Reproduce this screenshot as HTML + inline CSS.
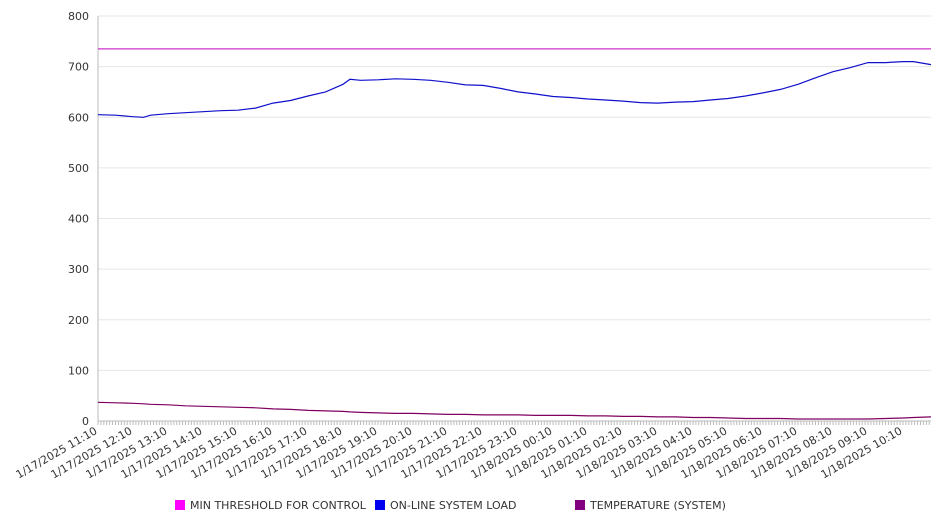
<!DOCTYPE html>
<html><head><meta charset="utf-8"><style>
body{margin:0;background:#fff;font-family:"Liberation Sans","DejaVu Sans",sans-serif}
svg text{font-family:"DejaVu Sans","Liberation Sans",sans-serif;fill:#333}
</style></head><body>
<svg id="chart" width="946" height="526" xmlns="http://www.w3.org/2000/svg">
<g id="grid"></g>
<g id="yaxis"></g>
<g id="xaxis"></g>
<g id="series"></g>
<g id="legend">
<g><rect x="175" y="500" width="10" height="10" fill="#ff00ff"/><text x="190" y="509" font-size="11">MIN THRESHOLD FOR CONTROL</text></g>
<g><rect x="375" y="500" width="10" height="10" fill="#0000ee"/><text x="390" y="509" font-size="11">ON-LINE SYSTEM LOAD</text></g>
<g><rect x="575" y="500" width="10" height="10" fill="#800080"/><text x="590" y="509" font-size="11">TEMPERATURE (SYSTEM)</text></g>
</g>
</svg>
<script>
const yTicks=[0,100,200,300,400,500,600,700,800];
const xLabels=["1/17/2025 11:10","1/17/2025 12:10","1/17/2025 13:10","1/17/2025 14:10","1/17/2025 15:10","1/17/2025 16:10","1/17/2025 17:10","1/17/2025 18:10","1/17/2025 19:10","1/17/2025 20:10","1/17/2025 21:10","1/17/2025 22:10","1/17/2025 23:10","1/18/2025 00:10","1/18/2025 01:10","1/18/2025 02:10","1/18/2025 03:10","1/18/2025 04:10","1/18/2025 05:10","1/18/2025 06:10","1/18/2025 07:10","1/18/2025 08:10","1/18/2025 09:10","1/18/2025 10:10"];
const hours=[0,0.5,1,1.3,1.5,2,2.5,3,3.5,4,4.5,5,5.5,6,6.5,7,7.2,7.5,8,8.5,9,9.5,10,10.5,11,11.5,12,12.5,13,13.5,14,14.5,15,15.5,16,16.5,17,17.5,18,18.5,19,19.5,20,20.5,21,21.5,22,22.5,23,23.3,23.8];
const loadValues=[605,604,601,600,604,607,609,611,613,614,618,628,633,642,650,665,675,673,674,676,675,673,669,664,663,657,650,646,641,639,636,634,632,629,628,630,631,634,637,642,648,655,665,678,690,698,708,708,710,710,704,701];
const tempValues=[37,36,35,34,33,32,30,29,28,27,26,24,23,21,20,19,18,17,16,15,15,14,13,13,12,12,12,11,11,11,10,10,9,9,8,8,7,7,6,5,5,5,4,4,4,4,4,5,6,7,8];
const threshold=735;
const X0=98,X1=931,Y0=421,Y1=16,HPX=35;
const xs=h=>X0+h*HPX, ys=v=>Y0-(v/800)*(Y0-Y1);
const NS="http://www.w3.org/2000/svg";
function mk(tag,attrs,parent){const e=document.createElementNS(NS,tag);for(const k in attrs)e.setAttribute(k,attrs[k]);parent.appendChild(e);return e;}
const grid=document.getElementById('grid'),ya=document.getElementById('yaxis'),xa=document.getElementById('xaxis'),se=document.getElementById('series');
yTicks.forEach(v=>{
  const l=mk('line',{x1:X0,x2:X1,y1:ys(v),y2:ys(v),stroke:'#e6e6e6','stroke-width':1},grid);
  
  
  const t=mk('text',{x:89,y:ys(v)+4,'text-anchor':'end','font-size':11},ya);
  t.textContent=v;
  
  
});
mk('line',{x1:X0,x2:X0,y1:Y1,y2:Y0,stroke:'#bbb'},ya);
mk('line',{x1:X0,x2:X1,y1:Y0,y2:Y0,stroke:'#bbb'},xa);
for(let m=0;m*5/60*HPX<=X1-X0;m++){const x=xs(m*5/60);mk('line',{x1:x,x2:x,y1:Y0,y2:Y0+4,stroke:'#bbb'},xa);}
xLabels.forEach((s,i)=>{
  const x=xs(i);
  const t=mk('text',{x:x,y:Y0+12,'text-anchor':'end','font-size':11,transform:`rotate(-30 ${x} ${Y0+12})`},xa);
  t.textContent=s;
  
  
});
const th=mk('line',{x1:X0,x2:X1,y1:ys(threshold),y2:ys(threshold),stroke:'#cc33cc','stroke-width':1.2},se);


function path(vals,color){return mk('path',{d:vals.map((v,i)=>(i?'L':'M')+xs(hours[i]).toFixed(1)+','+ys(v).toFixed(1)).join(''),fill:'none',stroke:color,'stroke-width':1.2},se);}
const lp=path(loadValues,'#1010cc');


const tp=path(tempValues,'#800060');


</script>
</body></html>
